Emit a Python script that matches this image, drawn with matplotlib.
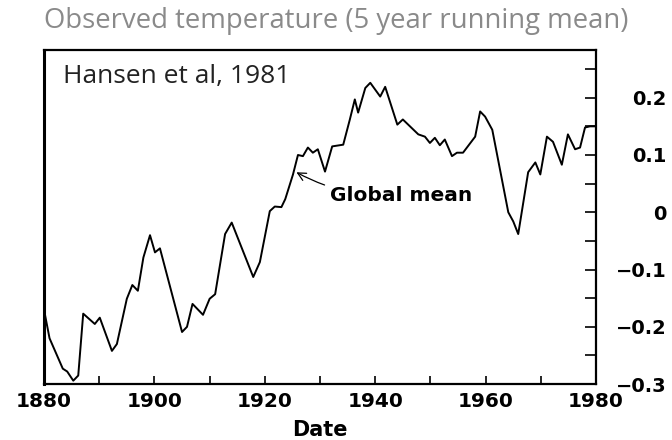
import matplotlib
matplotlib.use("Agg")
import matplotlib.pyplot as plt
from matplotlib.ticker import MultipleLocator, FixedLocator

years = [1880.0, 1881.0, 1883.4, 1884.2, 1885.3, 1886.2, 1887.1, 1889.2, 1890.1,
         1892.3, 1893.2, 1895.0, 1896.0, 1897.0, 1898.0, 1899.2, 1900.1, 1901.0,
         1905.0, 1905.9, 1906.9, 1908.8, 1910.0, 1911.0, 1912.8, 1914.0, 1917.9,
         1919.1, 1920.9, 1921.8, 1923.0, 1923.7, 1925.1, 1926.0, 1926.9, 1927.8,
         1928.7, 1929.6, 1930.9, 1932.2, 1934.2, 1935.4, 1936.3, 1936.9, 1938.2,
         1939.1, 1940.9, 1941.8, 1944.0, 1945.0, 1947.8, 1949.0, 1949.9, 1950.8,
         1951.7, 1952.6, 1953.9, 1954.8, 1955.9, 1958.1, 1959.0, 1959.9, 1961.2,
         1964.1, 1965.0, 1965.9, 1967.7, 1969.0, 1969.9, 1971.1, 1972.2, 1973.8,
         1974.9, 1976.2, 1977.1, 1978.0, 1978.9, 1979.8]
temps = [-0.17, -0.22, -0.273, -0.278, -0.294, -0.285, -0.177, -0.195, -0.184,
         -0.242, -0.23, -0.151, -0.127, -0.137, -0.079, -0.04, -0.07, -0.063,
         -0.209, -0.2, -0.16, -0.179, -0.151, -0.143, -0.038, -0.018, -0.113,
         -0.087, 0.002, 0.01, 0.009, 0.023, 0.066, 0.1, 0.098, 0.113,
         0.104, 0.11, 0.071, 0.115, 0.118, 0.162, 0.197, 0.174, 0.217,
         0.226, 0.202, 0.219, 0.153, 0.162, 0.136, 0.132, 0.121, 0.13,
         0.117, 0.127, 0.098, 0.104, 0.104, 0.132, 0.176, 0.167, 0.144,
         0.0, -0.016, -0.038, 0.07, 0.087, 0.066, 0.132, 0.123, 0.083,
         0.136, 0.11, 0.113, 0.148, 0.15, 0.15]

x_ticks = [1880, 1900, 1920, 1940, 1960, 1980]
y_ticks = [-0.3, -0.2, -0.1, 0, 0.1, 0.2]
y_labels = ["\u22120.3", "\u22120.2", "\u22120.1", "0", "0.1", "0.2"]

fig = plt.figure(figsize=(6.72, 4.4), dpi=100)
ax = fig.add_axes([0.0655, 0.127, 0.8215, 0.759])

ax.plot(years, temps, color="black", lw=1.4)

ax.set_xlim(1880, 1980)
ax.set_ylim(-0.3, 0.283)

for s in ax.spines.values():
    s.set_linewidth(1.6)
ax.spines["left"].set_linewidth(2.2)

ax.xaxis.set_major_locator(FixedLocator(x_ticks))
ax.xaxis.set_minor_locator(MultipleLocator(10))
ax.set_xticklabels([str(t) for t in x_ticks], fontsize=14.5, fontweight="bold",
                   family="DejaVu Sans")
ax.tick_params(axis="x", which="both", direction="in", length=6, width=1.2, pad=6)

ax.yaxis.tick_right()
ax.yaxis.set_major_locator(FixedLocator(y_ticks))
ax.yaxis.set_minor_locator(MultipleLocator(0.05))
ax.set_yticklabels(y_labels, fontsize=14, fontweight="bold", family="DejaVu Sans")
ax.tick_params(axis="y", which="both", direction="in", length=8, width=1.2, pad=51)
for lab in ax.get_yticklabels():
    lab.set_horizontalalignment("right")

ax.set_xlabel("Date", fontsize=15, fontweight="bold", labelpad=6)

ax.text(0.035, 0.92, "Hansen et al, 1981", transform=ax.transAxes,
        fontsize=19, family="Open Sans", color="#222222", va="center")

ax.annotate("Global mean", xy=(1925.5, 0.071), xytext=(1931.8, 0.03),
            fontsize=14.5, fontweight="bold", va="center",
            arrowprops=dict(arrowstyle="->", lw=0.9, color="black",
                            connectionstyle="arc3,rad=-0.15",
                            shrinkA=2, shrinkB=1))

fig.text(0.5, 0.952, "Observed temperature (5 year running mean)",
         ha="center", va="center", fontsize=19.8, color="#8a8a8a",
         family="Open Sans")

fig.savefig("out.png", dpi=100)
